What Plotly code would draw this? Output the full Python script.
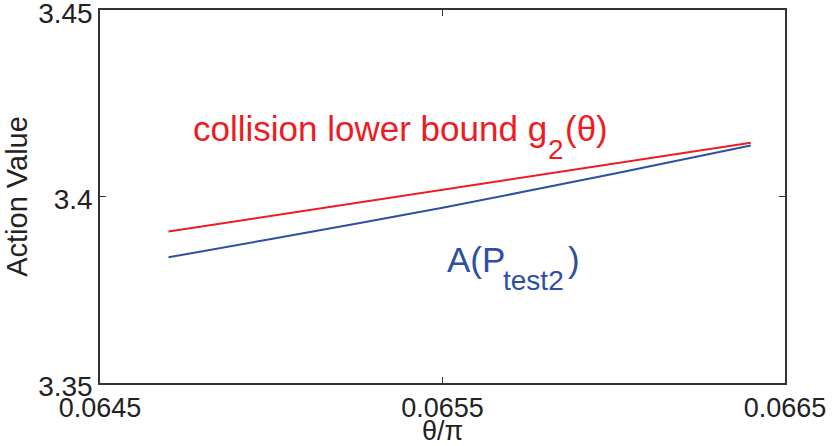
import plotly.graph_objects as go

# data
theta_red = [0.0647, 0.0650, 0.0655, 0.0660, 0.0664]
g2_lower = [3.3906, 3.3948, 3.4018, 3.4088, 3.4144]
theta_blue = [0.0647, 0.0650, 0.0655, 0.0660, 0.0664]
A_test2 = [3.3837, 3.3886, 3.3970, 3.4061, 3.4137]

x_ticks = [0.0645, 0.0655, 0.0665]
x_ticktext = ["0.0645", "0.0655", "0.0665"]
y_ticks = [3.35, 3.40, 3.45]
y_ticktext = ["3.35", "3.4", "3.45"]

RED = "#ED1C24"
BLUE = "#2E4FA3"
AXC = "#333333"
FONT = "Liberation Sans, Arial, sans-serif"

fig = go.Figure()
fig.add_trace(go.Scatter(x=theta_red, y=g2_lower, mode="lines",
                         line=dict(color=RED, width=2), showlegend=False))
fig.add_trace(go.Scatter(x=theta_blue, y=A_test2, mode="lines",
                         line=dict(color=BLUE, width=2, shape="spline", smoothing=0.8),
                         showlegend=False))

def label(text, x, y, size, color):
    fig.add_annotation(x=x, y=y, xref="paper", yref="paper", xanchor="left", yanchor="middle",
                       text=text, showarrow=False, font=dict(family=FONT, size=size, color=color))

# red label: "collision lower bound g_2(θ)"
label("collision lower bound g", 0.133, 0.681, 35, RED)
label("2", 0.651, 0.6247, 28, RED)
label("(θ)", 0.676, 0.681, 35, RED)
# blue label: "A(P_test2)"
label("A(P", 0.503, 0.3324, 35, BLUE)
label("test2", 0.585, 0.2735, 28, BLUE)
label(")", 0.681, 0.3324, 35, BLUE)

fig.update_layout(
    width=832, height=446,
    margin=dict(l=100, r=47, t=10, b=63),
    paper_bgcolor="white", plot_bgcolor="white",
    font=dict(family=FONT, size=28, color="#222222"),
    xaxis=dict(range=[0.06449999, 0.06650001], tickvals=x_ticks, ticktext=x_ticktext,
               showgrid=False, zeroline=False, showline=True, linecolor=AXC, linewidth=1.5,
               mirror="ticks", ticks="inside", ticklen=6, tickcolor=AXC, tickwidth=1,
               ticklabeloverflow="allow", automargin=False,
               tickfont=dict(size=27),
               title=dict(text="θ/π", font=dict(size=27), standoff=0)),
    yaxis=dict(range=[3.3499999, 3.4500001], tickvals=y_ticks, ticktext=y_ticktext,
               showgrid=False, zeroline=False, showline=True, linecolor=AXC, linewidth=1.5,
               mirror="ticks", ticks="inside", ticklen=6, tickcolor=AXC, tickwidth=1,
               ticklabeloverflow="allow", automargin=False, ticklabelshift=3,
               title=dict(text="Action Value", font=dict(size=29), standoff=2)),
)

fig.write_html("out.html")
